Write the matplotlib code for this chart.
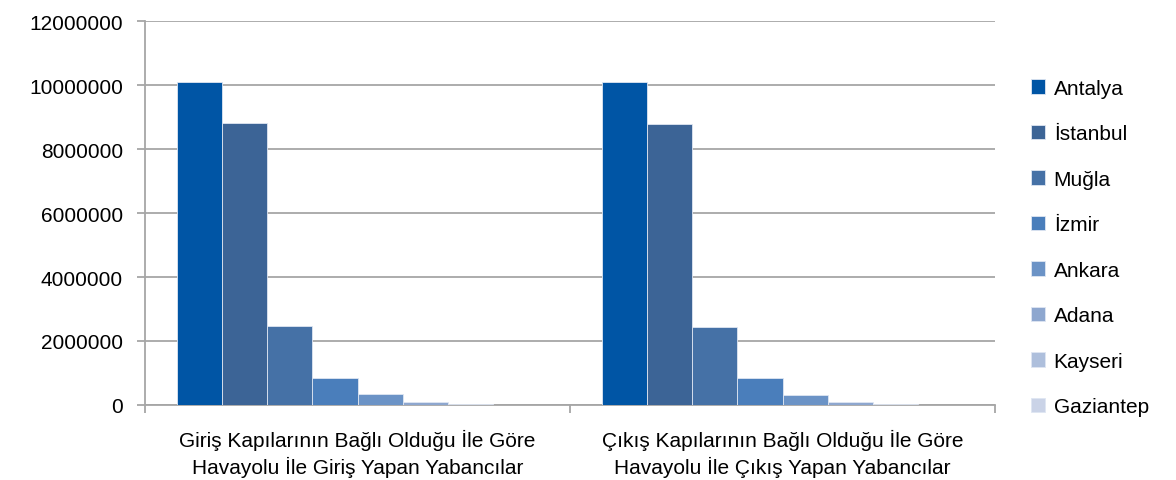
import numpy as np
import matplotlib.pyplot as plt

plt.rcParams['font.family'] = ['Liberation Sans', 'DejaVu Sans']

categories = ["Giriş Kapılarının Bağlı Olduğu İle Göre\nHavayolu İle Giriş Yapan Yabancılar",
              "Çıkış Kapılarının Bağlı Olduğu İle Göre\nHavayolu İle Çıkış Yapan Yabancılar"]
cities = ["Antalya", "İstanbul", "Muğla", "İzmir", "Ankara", "Adana", "Kayseri", "Gaziantep"]
giris = [10090000, 8810000, 2470000, 845000, 340000, 100000, 35000, 12000]
cikis = [10100000, 8790000, 2450000, 850000, 325000, 92000, 33000, 11000]
colors = ["#0055A5", "#3C6496", "#4571A6", "#4A7EBB", "#6B93C6", "#8EA7CF", "#AEBFDC", "#CAD3E7"]

fig = plt.figure(figsize=(11.76, 4.81), dpi=100)
ax = fig.add_axes([0.1233, 0.156, 0.7228, 0.798])

n = len(cities)
width = 0.85 / n
x = np.arange(len(categories))
for i, city in enumerate(cities):
    vals = [giris[i], cikis[i]]
    ax.bar(x - 0.85 / 2 + width * (i + 0.5), vals, width, color=colors[i],
           edgecolor="#dfe6f2", linewidth=0.6, label=city, zorder=3)

ax.set_xlim(-0.5, 1.5)
ax.set_ylim(0, 12000000)
ax.set_yticks(np.arange(0, 12000001, 2000000))
ax.set_yticklabels([str(v) for v in range(0, 12000001, 2000000)], fontsize=15)
ax.yaxis.grid(True, color="#a6a6a6", linewidth=1.3, zorder=0)

ax.set_xticks([-0.5, 0.5, 1.5], minor=False)
ax.set_xticklabels([])
ax.set_xticks(x, minor=True)
ax.set_xticklabels(categories, minor=True, fontsize=15, linespacing=1.35)
ax.tick_params(axis='x', which='minor', length=0, pad=17)
ax.tick_params(axis='x', which='major', length=6, color="#a6a6a6", width=1.3, direction='out')
ax.tick_params(axis='y', length=6, color="#a6a6a6", width=1.3, pad=10)

for s in ['top', 'right']:
    ax.spines[s].set_visible(False)
for s in ['left', 'bottom']:
    ax.spines[s].set_color("#a6a6a6")
    ax.spines[s].set_linewidth(1.3)

ax.legend(loc='center left', bbox_to_anchor=(1.02, 0.41), frameon=False, fontsize=15,
          handlelength=0.7, handleheight=0.7, handletextpad=0.4, labelspacing=1.27)

fig.savefig("out.png", dpi=100)
